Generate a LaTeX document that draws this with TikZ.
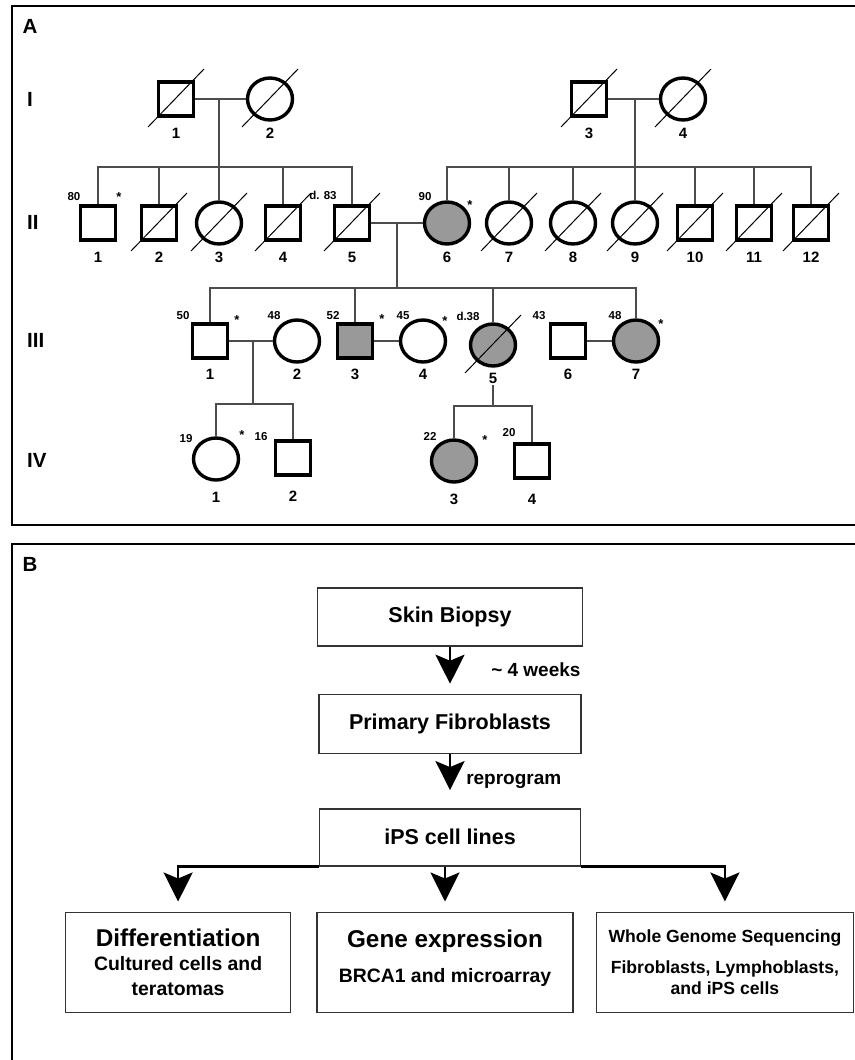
\documentclass[tikz,border=0pt]{standalone}
\usepackage{fontspec}
\setmainfont{Liberation Sans}
\usetikzlibrary{arrows.meta,positioning,shapes.geometric}

\begin{document}
\begin{tikzpicture}[
    x=1pt, y=-1pt,
    node distance=47pt and 24pt,
    font=\bfseries,
    male/.style={rectangle, draw, line width=3.4pt, minimum width=35pt, minimum height=34pt, inner sep=0pt},
    female/.style={ellipse, draw, line width=3.4pt, minimum width=45pt, minimum height=42pt, inner sep=0pt},
    affected/.style={fill=gray!80},
    num/.style={font=\fontsize{15}{17}\bfseries\selectfont, inner sep=0pt, outer sep=2pt},
    age/.style={font=\fontsize{11.5}{13}\bfseries\selectfont, inner sep=0pt},
    star/.style={font=\fontsize{13}{15}\bfseries\selectfont, inner sep=0pt},
    gen/.style={font=\fontsize{20.5}{24}\bfseries\selectfont, inner sep=0pt},
    link/.style={line width=1.3pt, black!70},
    slash/.style={line width=1pt},
    panel/.style={line width=2.8pt},
    box/.style={rectangle, draw=black!80, line width=1.4pt, align=center, inner sep=0pt,
                font=\fontsize{21.5}{26}\bfseries\selectfont},
    lbl/.style={font=\fontsize{19}{22}\bfseries\selectfont, inner sep=0pt},
    arrow/.style={-{Stealth[length=29pt, width=29pt, inset=6pt]}, line width=2.5pt}
  ]
  \useasboundingbox (0,0) rectangle (854,1060);

  % panel frames
  \draw[panel] (858,6) -- (12,6) -- (12,525) -- (858,525);
  \draw[panel] (858,544) -- (12,544) -- (12,1064);
  \node[gen] (lblA) at (30,26) {A};
  \node[gen] (lblB) at (30,564) {B};

  % generation numerals
  \foreach \g/\y in {I/99, II/222, III/340, IV/460}
    \node[gen, anchor=west] (gen\g) at (27,\y) {\g};

  % generation I
  \node[male]   (i1) at (176,99) {};
  \node[female] (i2) at (270,99) {};
  \node[male]   (i3) at (589,99) {};
  \node[female] (i4) at (683,99) {};

  % generation II
  \node[male]             (ii1)  at (98,223)  {};
  \node[male]             (ii2)  at (159,223) {};
  \node[female]           (ii3)  at (219,223) {};
  \node[male]             (ii4)  at (283,223) {};
  \node[male]             (ii5)  at (352,223) {};
  \node[female, affected] (ii6)  at (447,223) {};
  \node[female]           (ii7)  at (509,223) {};
  \node[female]           (ii8)  at (573,223) {};
  \node[female]           (ii9)  at (635,223) {};
  \node[male]             (ii10) at (695,223) {};
  \node[male]             (ii11) at (754,223) {};
  \node[male]             (ii12) at (811,223) {};

  % generation III
  \node[male]             (iii1) at (210,341) {};
  \node[female]           (iii2) at (297,341) {};
  \node[male, affected]   (iii3) at (355,341) {};
  \node[female]           (iii4) at (423,341) {};
  \node[female, affected] (iii5) at (493,345) {};
  \node[male]             (iii6) at (568,341) {};
  \node[female, affected] (iii7) at (636,341) {};

  % generation IV
  \node[female]           (iv1) at (216,459) {};
  \node[male]             (iv2) at (293,458) {};
  \node[female, affected] (iv3) at (454,461) {};
  \node[male]             (iv4) at (532,461) {};

  % deceased
  \foreach \p in {i1,i2,i3,i4,ii2,ii3,ii4,ii5,ii7,ii8,ii9,ii10,ii11,ii12,iii5}
    \draw[slash] ([shift={(-28,28)}]\p.center) -- ([shift={(28,-30)}]\p.center);

  % individual numbers
  \foreach \p/\n in {i1/1,i2/2,i3/3,i4/4}
    \path (\p) ++(0,34) node[num] (n\p) {\n};
  \foreach \p/\n in {ii1/1,ii2/2,ii3/3,ii4/4,ii5/5,ii6/6,ii7/7,ii8/8,ii9/9,ii10/10,ii11/11,ii12/12}
    \path (\p) ++(0,34) node[num] (n\p) {\n};
  \foreach \p/\n in {iii1/1,iii2/2,iii3/3,iii4/4,iii5/5,iii6/6,iii7/7}
    \path (\p) ++(0,33) node[num] (n\p) {\n};
  \foreach \p/\n in {iv1/1,iv2/2,iv3/3,iv4/4}
    \path (\p) ++(0,38) node[num] (n\p) {\n};

  % ages
  \foreach \x/\y/\t [count=\k] in {74/197/80, 323/195/d. 83, 425/197/90, 183/316/50, 274/316/48,
      333/316/52, 403/316/45, 468/316/d.38, 539/316/43, 615/316/48, 186/439/19, 261/437/16,
      430/436/22, 509/433/20}
    \node[age] (age\k) at (\x,\y) {\t};
  \foreach \x/\y [count=\k] in {119/197, 470/205, 237/320, 382/319, 445/321, 661/324, 242/435, 485/440}
    \node[star] (star\k) at (\x,\y) {*};

  % families
  \coordinate (f1) at (219,99);  \coordinate (s1) at (219,167);
  \coordinate (f2) at (635,99);  \coordinate (s2) at (635,167);
  \coordinate (f3) at (397,223); \coordinate (s3) at (397,288);
  \coordinate (f4) at (253,341); \coordinate (s4) at (253,404);
  \coordinate (s5) at (493,406);

  \draw[link] (i1) -- (i2);
  \draw[link] (f1) -- (s1);
  \draw[link] (ii1.north) |- (s1) -| (ii5.north);
  \foreach \c in {ii2,ii3,ii4}
    \draw[link] (\c.north) -- (\c.north |- s1);

  \draw[link] (i3) -- (i4);
  \draw[link] (f2) -- (s2);
  \draw[link] (ii6.north) |- (s2) -| (ii12.north);
  \foreach \c in {ii7,ii8,ii9,ii10,ii11}
    \draw[link] (\c.north) -- (\c.north |- s2);

  \draw[link] (ii5) -- (ii6);
  \draw[link] (f3) -- (s3);
  \draw[link] (iii1.north) |- (s3) -| (iii7.north);
  \foreach \c in {iii3,iii5}
    \draw[link] (\c.north) -- (\c.north |- s3);

  \draw[link] (iii1) -- (iii2);
  \draw[link] (iii3) -- (iii4);
  \draw[link] (iii6) -- (iii7);
  \draw[link] (f4) -- (s4);
  \draw[link] (iv1.north) |- (s4) -| (iv2.north);

  \draw[link] (niii5) -- (s5);
  \draw[link] (iv3.north) |- (s5) -| (iv4.north);

  % workflow
  \node[box, minimum width=265pt, minimum height=58pt] (skin) at (450,617) {Skin Biopsy};
  \node[box, minimum width=262pt, minimum height=59pt, below=of skin] (fibro) {Primary Fibroblasts};
  \node[box, minimum width=261pt, minimum height=57pt, below=54pt of fibro] (ips) {iPS cell lines};

  \node[box, minimum width=256pt, minimum height=100pt, below=45pt of ips, xshift=-5pt,
        font=\fontsize{19.4}{24}\bfseries\selectfont] (expr)
        {{\fontsize{24.3}{28}\selectfont Gene expression}\\[11pt] BRCA1 and microarray\\[-12pt]\mbox{}};
  \node[box, minimum width=225pt, minimum height=100pt, left=25pt of expr,
        font=\fontsize{19.4}{24.5}\bfseries\selectfont] (diff)
        {{\fontsize{24.3}{28}\selectfont Differentiation}\\ Cultured cells and\\ teratomas};
  \node[box, minimum width=257pt, minimum height=100pt, right=22pt of expr,
        font=\fontsize{17.6}{21}\bfseries\selectfont] (wgs)
        {Whole Genome Sequencing\\[10pt] Fibroblasts, Lymphoblasts,\\ and iPS cells};

  \draw[arrow, shorten >=10pt] (skin) -- node[lbl, right=40pt] {\textasciitilde{} 4 weeks} (fibro);
  \draw[arrow, shorten >=18pt] (fibro) -- node[lbl, right=15pt] {reprogram} (ips);
  \draw[arrow, shorten >=10pt] (ips.south west) -| (diff);
  \draw[arrow, shorten >=10pt] (ips.south -| expr) -- (expr);
  \draw[arrow, shorten >=10pt] (ips.south east) -| (wgs);
\end{tikzpicture}
\end{document}
